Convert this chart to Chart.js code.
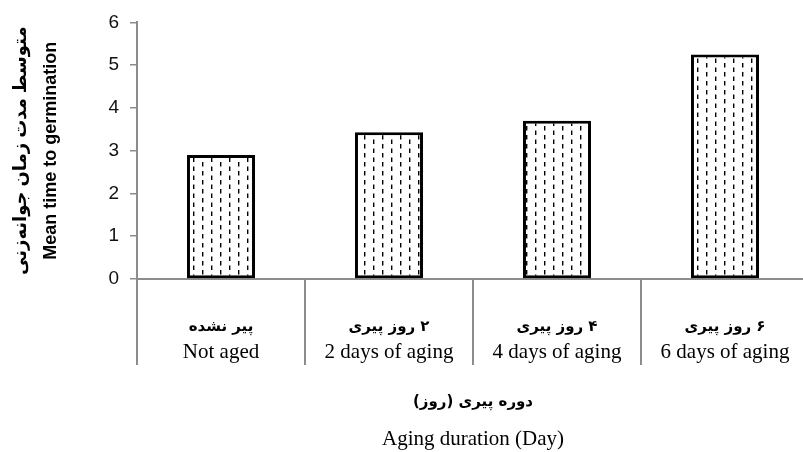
<!DOCTYPE html>
<html>
<head>
<meta charset="utf-8">
<script src="https://cdn.jsdelivr.net/npm/chart.js@4"></script>
<style>
  html, body { margin: 0; padding: 0; background: #fff; overflow: hidden; }
  #wrap { width: 812px; height: 452px; }
</style>
</head>
<body>
<div id="wrap"><canvas id="chart" width="812" height="452"></canvas></div>
<script>
// Mean time to germination by aging duration
const labelsEn = ['Not aged', '2 days of aging', '4 days of aging', '6 days of aging'];
const labelsFa = ['پیر نشده', '۲ روز پیری', '۴ روز پیری', '۶ روز پیری'];
const meanTime = [2.9, 3.43, 3.7, 5.25];
const yTicks = [0, 1, 2, 3, 4, 5, 6];
const yTitle = ['متوسط مدت زمان جوانه‌زنی', 'Mean time to germination'];
const xTitleFa = 'دوره پیری (روز)';
const xTitleEn = 'Aging duration (Day)';

// dashed vertical-line fill, staggered columns
function makePattern() {
    const c = document.createElement('canvas');
    c.width = 18; c.height = 9;
    const g = c.getContext('2d');
    g.fillStyle = '#fff';
    g.fillRect(0, 0, 18, 9);
    g.fillStyle = '#000';
    g.fillRect(4, 0, 1.4, 4.5);
    g.fillRect(13, 4.5, 1.4, 4.5);
    return g.createPattern(c, 'repeat');
}

// category labels and x title (two scripts, two fonts)
const xTextPlugin = {
    id: 'xText',
    afterDraw(chart) {
        const ctx = chart.ctx;
        const xs = chart.scales.x;
        ctx.save();
        ctx.fillStyle = '#000';
        ctx.textAlign = 'center';
        ctx.textBaseline = 'middle';
        labelsFa.forEach(function (t, i) {
            const x = xs.getPixelForValue(i);
            ctx.direction = 'rtl';
            ctx.font = 'bold 15px "DejaVu Sans", sans-serif';
            ctx.fillText(t, x, 327);
            ctx.direction = 'ltr';
            ctx.font = '21px "Liberation Serif", serif';
            ctx.fillText(labelsEn[i], x, 352);
        });
        const cx = (chart.chartArea.left + chart.chartArea.right) / 2;
        ctx.direction = 'rtl';
        ctx.font = 'bold 15px "DejaVu Sans", sans-serif';
        ctx.fillText(xTitleFa, cx, 402);
        ctx.direction = 'ltr';
        ctx.font = '21px "Liberation Serif", serif';
        ctx.fillText(xTitleEn, cx, 439);
        ctx.restore();
    }
};

new Chart(document.getElementById('chart').getContext('2d'), {
    type: 'bar',
    data: {
        labels: labelsEn,
        datasets: [{
            data: meanTime,
            backgroundColor: makePattern(),
            borderColor: '#000',
            borderWidth: 3,
            borderSkipped: false,
            barPercentage: 0.405,
            categoryPercentage: 1
        }]
    },
    options: {
        responsive: false,
        animation: false,
        events: [],
        layout: { padding: { top: 20, right: 3, left: 0, bottom: 0 } },
        plugins: { legend: { display: false }, tooltip: { enabled: false } },
        scales: {
            x: {
                offset: true,
                grid: {
                    offset: true,
                    drawOnChartArea: false,
                    color: '#8c8c8c',
                    lineWidth: 2,
                    tickLength: 86
                },
                border: { color: '#8c8c8c', width: 2 },
                ticks: { display: false },
                afterFit: function (s) { s.height = 173; }
            },
            y: {
                min: 0,
                max: 6,
                afterBuildTicks: function (s) { s.ticks = yTicks.map(v => ({ value: v })); },
                grid: {
                    drawOnChartArea: false,
                    color: '#8c8c8c',
                    lineWidth: 1.5,
                    tickLength: 7
                },
                border: { color: '#8c8c8c', width: 2 },
                ticks: {
                    color: '#111',
                    padding: 11,
                    font: { family: '"Liberation Sans", Arial, sans-serif', size: 19 }
                },
                title: {
                    display: true,
                    text: yTitle,
                    color: '#000',
                    font: { family: '"Liberation Sans", "DejaVu Sans", sans-serif', size: 18, weight: 'bold', lineHeight: 1.65 },
                    padding: { top: 6, bottom: 0 }
                },
                afterFit: function (s) { s.width = 137; }
            }
        }
    },
    plugins: [xTextPlugin]
});
</script>
</body>
</html>
